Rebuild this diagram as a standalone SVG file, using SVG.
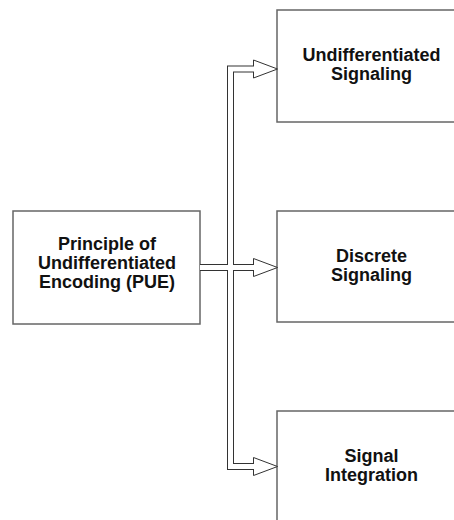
<svg xmlns="http://www.w3.org/2000/svg" width="454" height="520" viewBox="0 0 454 520">
<style>
.box{fill:#fff;stroke:#666;stroke-width:1.5}
.lbl{font-family:"Liberation Sans",Arial,sans-serif;font-weight:bold;font-size:18px;fill:#111;text-anchor:middle}
.outer{fill:none;stroke:#333;stroke-width:7;stroke-linejoin:miter}
.inner{fill:none;stroke:#fff;stroke-width:5;stroke-linejoin:miter}
.head{fill:#fff;stroke:#333;stroke-width:1;stroke-linejoin:miter}
</style>
<rect width="454" height="520" fill="#fff"/>
<g id="node-pue">
<rect class="box" x="13" y="211" width="187" height="113"/>
<text class="lbl" x="107" y="250">Principle of</text>
<text class="lbl" x="107" y="269">Undifferentiated</text>
<text class="lbl" x="107" y="288">Encoding (PUE)</text>
</g>
<g id="node-undiff">
<rect class="box" x="277" y="10" width="190" height="112"/>
<text class="lbl" x="371.5" y="61">Undifferentiated</text>
<text class="lbl" x="371.5" y="80">Signaling</text>
</g>
<g id="node-discrete">
<rect class="box" x="277" y="211" width="190" height="111"/>
<text class="lbl" x="371.5" y="262">Discrete</text>
<text class="lbl" x="371.5" y="281">Signaling</text>
</g>
<g id="node-integration">
<rect class="box" x="277" y="411" width="190" height="120"/>
<text class="lbl" x="371.5" y="462">Signal</text>
<text class="lbl" x="371.5" y="481">Integration</text>
</g>
<g id="connectors">
<path class="outer" d="M254,69 H230.5 V466.5 H254"/>
<path class="outer" d="M200,267.5 H254"/>
<polygon class="head" points="253.5,60 277.5,69 253.5,78"/>
<polygon class="head" points="253.5,258.5 277.5,267.5 253.5,276.5"/>
<polygon class="head" points="253.5,457.5 277.5,466.5 253.5,475.5"/>
<path class="inner" d="M254.5,69 H230.5 V466.5 H254.5"/>
<path class="inner" d="M200,267.5 H254.5"/>
</g>
</svg>
